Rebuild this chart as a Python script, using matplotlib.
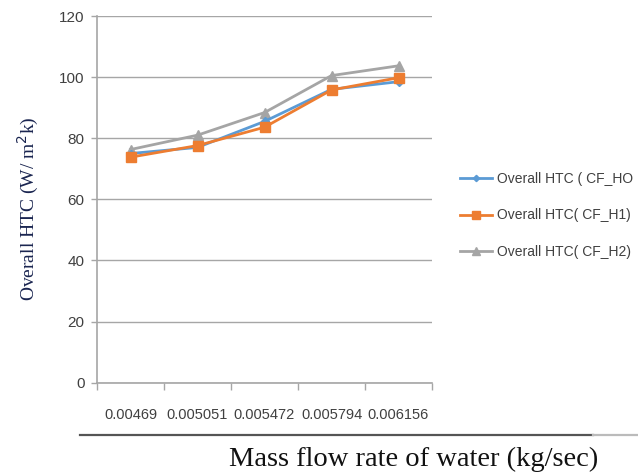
import matplotlib
matplotlib.use("Agg")
import matplotlib.pyplot as plt
from matplotlib.lines import Line2D
import numpy as np

categories = ["0.00469", "0.005051", "0.005472", "0.005794", "0.006156"]
htc_h0 = [75.0, 77.0, 85.5, 96.0, 98.5]
htc_h1 = [73.8, 77.6, 83.6, 95.8, 99.8]
htc_h2 = [76.3, 81.0, 88.4, 100.5, 103.7]
labels = ["Overall HTC ( CF_HO", "Overall HTC( CF_H1)", "Overall HTC( CF_H2)"]
y_ticks = [0, 20, 40, 60, 80, 100, 120]

fig = plt.figure(figsize=(6.38, 4.72), dpi=100)
ax = fig.add_axes([97/638, 1-382.7/472, (432-97)/638, (382.7-16)/472])

x = np.arange(len(categories))
grid_c = "#a6a6a6"
l0, = ax.plot(x, htc_h0, color="#5b9bd5", marker="D", markersize=4, lw=2, label=labels[0], zorder=3)
l1, = ax.plot(x, htc_h1, color="#ed7d31", marker="s", markersize=7, lw=2, label=labels[1], zorder=4)
l2, = ax.plot(x, htc_h2, color="#a5a5a5", marker="^", markersize=7, lw=2, label=labels[2], zorder=2)

ax.set_xlim(-0.5, len(categories) - 0.5)
ax.set_ylim(0, 120)
ax.set_yticks(y_ticks)
ax.set_xticks(np.arange(-0.5, len(categories), 1.0))
ax.set_xticklabels([])
ax.set_xticks(x, minor=True)
ax.set_xticklabels(categories, minor=True)
ax.tick_params(axis="x", which="minor", length=0, pad=18, labelsize=10.5, labelcolor="#404040")
ax.tick_params(axis="x", which="major", length=5, color=grid_c, width=1)
ax.tick_params(axis="y", length=4, color=grid_c, width=1, labelsize=11, labelcolor="#404040", pad=5)
for lab in ax.get_xticklabels(minor=True) + ax.get_yticklabels():
    lab.set_family("Liberation Sans")

ax.yaxis.grid(True, color=grid_c, lw=1)
ax.set_axisbelow(True)
for s in ["top", "right"]:
    ax.spines[s].set_visible(False)
ax.spines["left"].set_color(grid_c)
ax.spines["bottom"].set_color(grid_c)
ax.spines["left"].set_linewidth(1.2)
ax.spines["bottom"].set_linewidth(1.2)

fig.text(28/638, 1-209/472, "Overall HTC (W/ m$^2$k)", family="Liberation Serif", fontsize=14,
         color="#1a2550", rotation=90, ha="center", va="center")

fig.add_artist(Line2D([80/638, 593/638], [1-435/472, 1-435/472], color="#555555", lw=1.6))
fig.add_artist(Line2D([593/638, 638/638], [1-435/472, 1-435/472], color="#bbbbbb", lw=1.6))
fig.text(414/638, 1-459/472, "Mass flow rate of water (kg/sec)", family="Liberation Serif",
         fontsize=20.5, ha="center", va="center", color="#111111")

leg = fig.legend(handles=[l0, l1, l2], loc="upper left", bbox_to_anchor=(447.5/638, 1-159/472),
                 frameon=False, handlelength=2.3, labelspacing=1.65,
                 handletextpad=0.35, markerscale=0.8,
                 prop={"family": "Liberation Sans", "size": 10})
for t in leg.get_texts():
    t.set_color("#404040")

fig.savefig("out.png", dpi=100)
